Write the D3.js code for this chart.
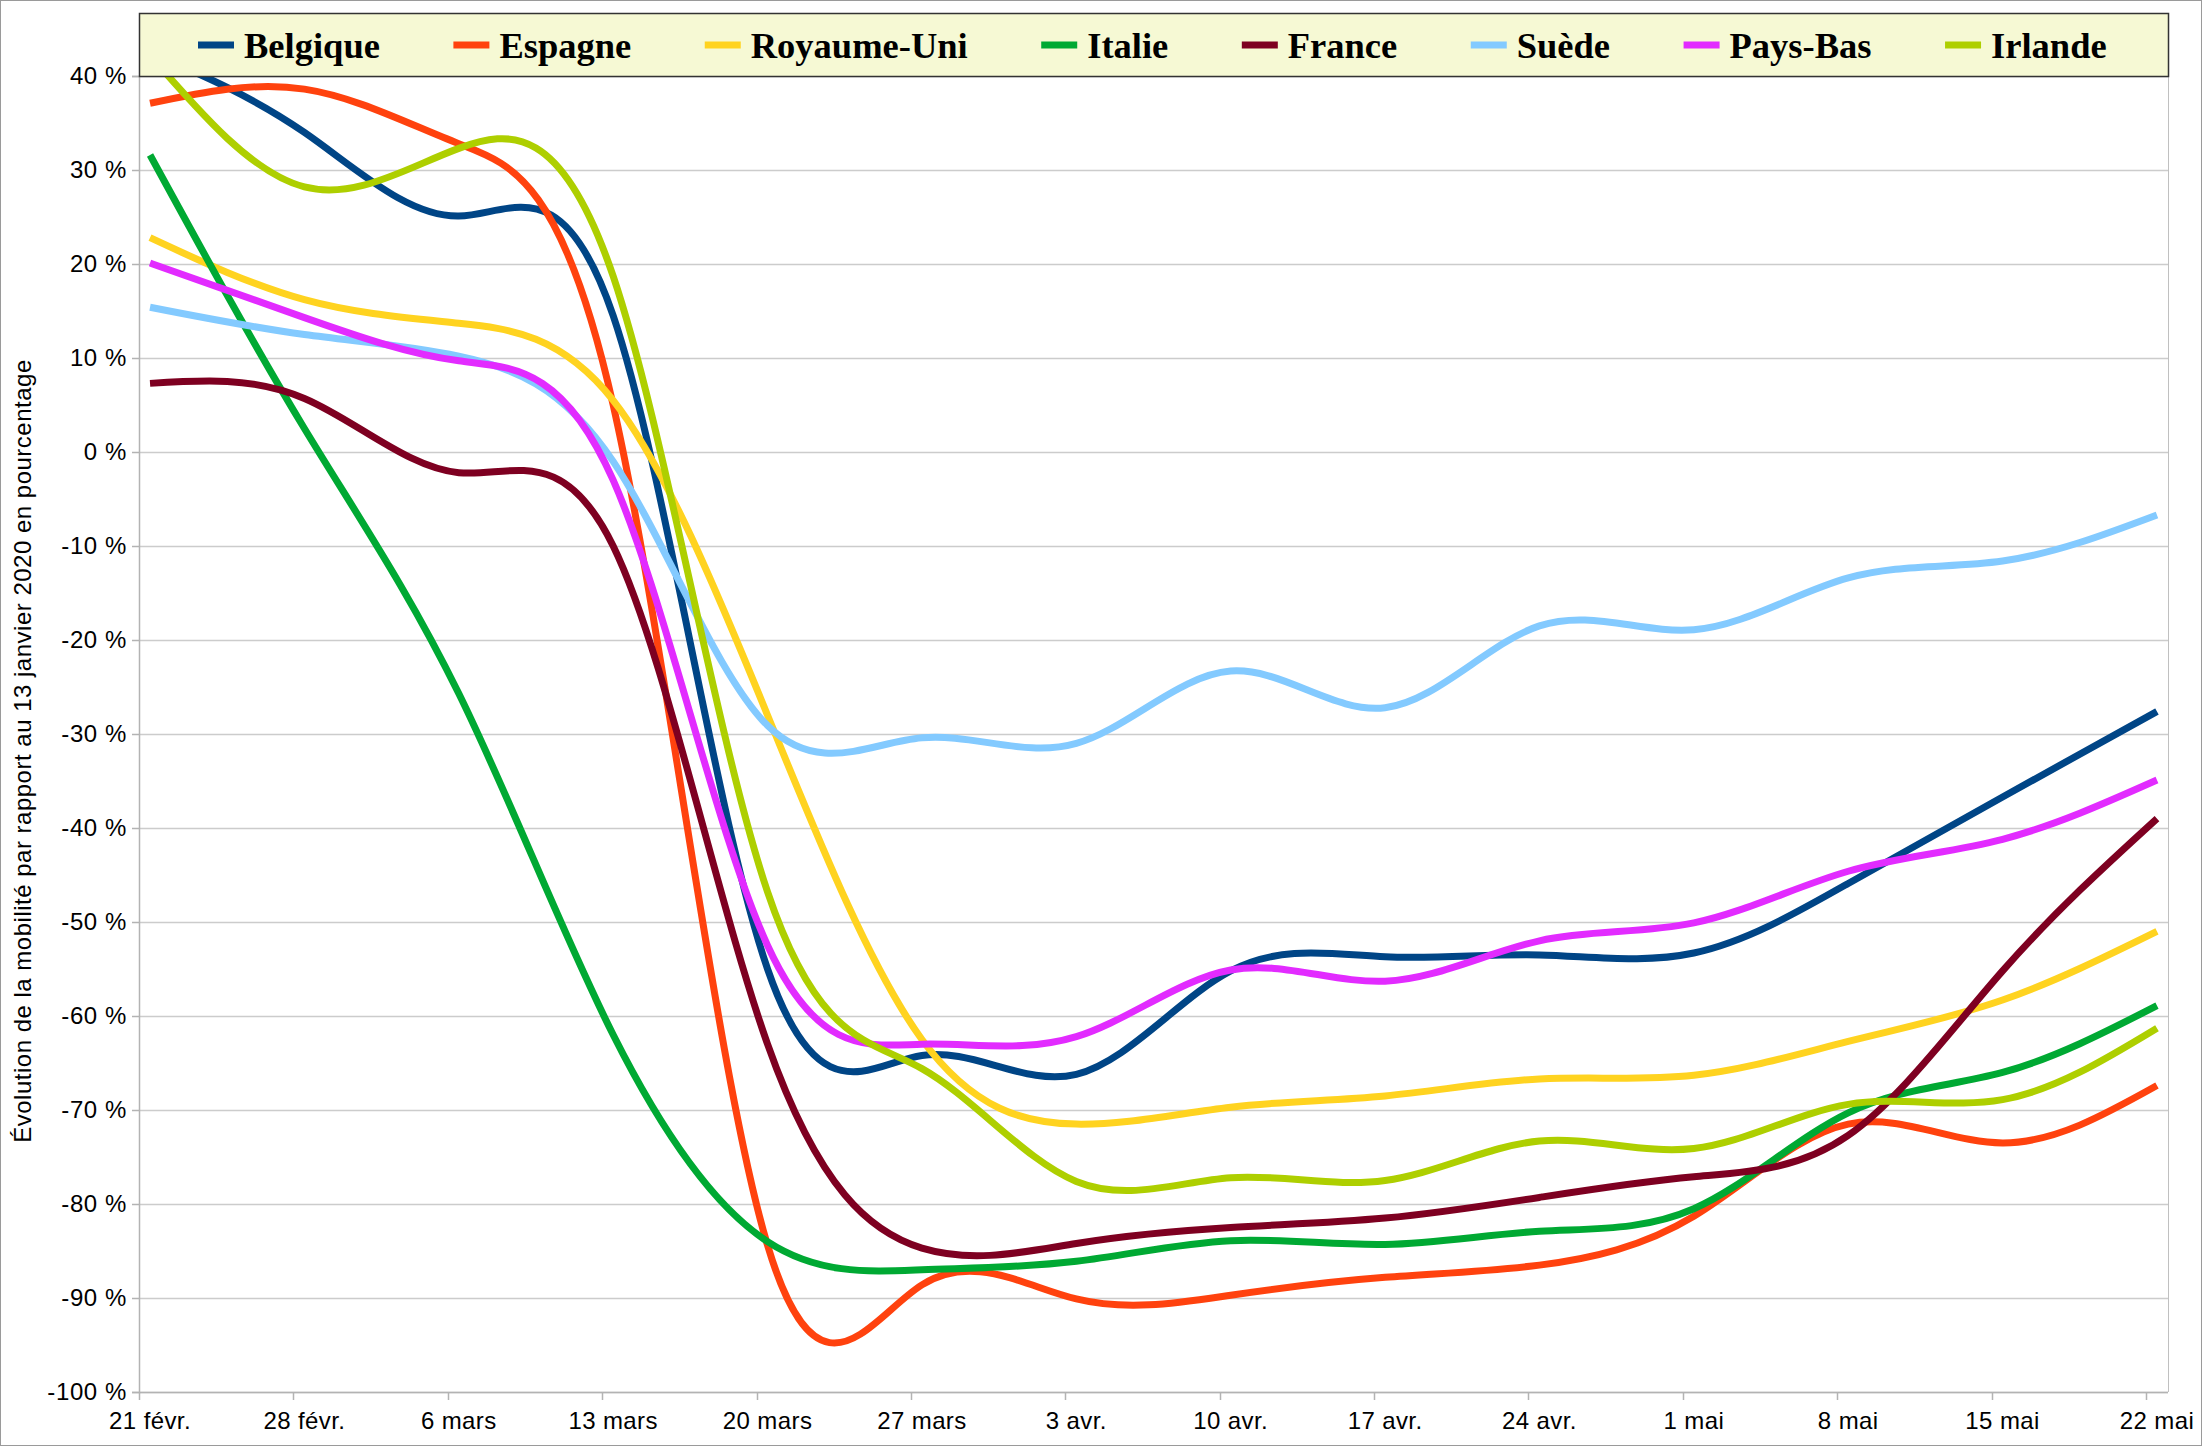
<!DOCTYPE html>
<html>
<head>
<meta charset="utf-8">
<script src="https://cdn.jsdelivr.net/npm/d3@7"></script>
<style>
  body { margin: 0; background: #fff; }
  svg { display: block; }
</style>
</head>
<body>
<div id="chart"></div>
<script>
const svgWidth = 2202;
const svgHeight = 1446;

// weekly data points (dates of the data), values in %
const dates = ["2020-02-21", "2020-02-28", "2020-03-06", "2020-03-13", "2020-03-20", "2020-03-27", "2020-04-03",
  "2020-04-10", "2020-04-17", "2020-04-24", "2020-05-01", "2020-05-08", "2020-05-15", "2020-05-22"];

const countries = ["Belgique", "Espagne", "Royaume-Uni", "Italie", "France", "Suède", "Pays-Bas", "Irlande"];
const colors = ["#004586", "#ff420e", "#ffd320", "#00a933", "#7e0021", "#83caff", "#e22bff", "#aecf00"];

const belgique = [42.5, 34.0, 25.1, 14.5, -55.0, -64.2, -66.2, -55.2, -53.7, -53.5, -53.3, -45.9, -36.7, -27.6];
const espagne = [37.1, 38.6, 32.8, 5.0, -84.4, -88.6, -90.1, -89.7, -87.8, -86.5, -81.3, -71.5, -73.5, -67.4];
const royaumeUni = [22.8, 16.2, 13.7, 5.5, -28.0, -62.5, -71.5, -69.7, -68.5, -66.7, -66.3, -62.7, -58.3, -51.0];
const italie = [31.6, 2.5, -25.7, -62.0, -84.0, -87.0, -86.1, -83.9, -84.3, -82.9, -80.5, -70.3, -66.0, -58.9];
const france = [7.3, 5.7, -2.2, -10.0, -63.0, -84.7, -84.2, -82.5, -81.5, -79.3, -77.1, -72.7, -55.2, -39.0];
const suede = [15.4, 12.5, 10.2, -1.0, -29.1, -30.4, -31.0, -23.3, -27.2, -18.5, -18.9, -13.4, -11.6, -6.7];
const paysBas = [20.1, 14.3, 9.7, -3.0, -52.5, -63.0, -62.2, -55.1, -56.3, -52.0, -50.1, -44.6, -41.2, -34.9];
const irlande = [42.2, 28.2, 32.3, 18.7, -46.8, -65.6, -77.6, -77.2, -77.5, -73.3, -74.1, -69.4, -68.9, -61.3];

const seriesValues = [belgique, espagne, royaumeUni, italie, france, suede, paysBas, irlande];
const yTicks = [40, 30, 20, 10, 0, -10, -20, -30, -40, -50, -60, -70, -80, -90, -100];
const yTitle = "Évolution de la mobilité par rapport au 13 janvier 2020 en pourcentage";

const fr = d3.timeFormatLocale({
  dateTime: "%A %e %B %Y à %X", date: "%d/%m/%Y", time: "%H:%M:%S", periods: ["AM", "PM"],
  days: ["dimanche", "lundi", "mardi", "mercredi", "jeudi", "vendredi", "samedi"],
  shortDays: ["dim.", "lun.", "mar.", "mer.", "jeu.", "ven.", "sam."],
  months: ["janvier", "février", "mars", "avril", "mai", "juin", "juillet", "août", "septembre", "octobre", "novembre", "décembre"],
  shortMonths: ["janv.", "févr.", "mars", "avr.", "mai", "juin", "juil.", "août", "sept.", "oct.", "nov.", "déc."]
});
const fmtDate = fr.format("%-d %b");

const parse = d3.timeParse("%Y-%m-%d");
const dayList = dates.map(parse);
const halfDay = d => d3.timeHour.offset(d, 12);

const sans = "'Liberation Sans', Arial, sans-serif";

const svg = d3.select("#chart")
  .append("svg")
  .attr("width", svgWidth)
  .attr("height", svgHeight);

svg.append("rect")
  .attr("x", 0.5).attr("y", 0.5)
  .attr("width", svgWidth - 1).attr("height", svgHeight - 1)
  .attr("fill", "#fff")
  .attr("stroke", "#9a9a9a");

// plot area
const margin = {top: 76, right: 34, bottom: 54, left: 139};
const graphWidth = svgWidth - margin.left - margin.right;
const graphHeight = svgHeight - margin.top - margin.bottom;

const graph = svg.append("g")
  .attr("transform", `translate(${margin.left}, ${margin.top})`);

const x = d3.scaleTime()
  .domain([dayList[0], d3.timeDay.offset(dayList[dayList.length - 1], 1)])
  .range([0, graphWidth]);

const y = d3.scaleLinear()
  .domain([-100, 40])
  .range([graphHeight, 0]);

// gridlines
graph.selectAll(".grid")
  .data(yTicks)
  .enter()
  .append("line")
  .attr("class", "grid")
  .attr("x1", 0).attr("x2", graphWidth)
  .attr("y1", d => Math.round(y(d)) + 0.5)
  .attr("y2", d => Math.round(y(d)) + 0.5)
  .attr("stroke", "#cccccc")
  .attr("stroke-width", 1.5);

// right border of plot
graph.append("line")
  .attr("x1", graphWidth + 0.5).attr("x2", graphWidth + 0.5)
  .attr("y1", 0).attr("y2", graphHeight)
  .attr("stroke", "#c0c0c0");

// y axis
const yAxis = d3.axisLeft(y)
  .tickValues(yTicks)
  .tickSize(7)
  .tickPadding(5)
  .tickFormat(d => `${d} %`);

const yG = graph.append("g").call(yAxis);
yG.select(".domain").attr("stroke", "#b3b3b3").attr("stroke-width", 1.5);
yG.selectAll(".tick line").attr("stroke", "#b3b3b3").attr("stroke-width", 1.5);
yG.selectAll("text")
  .attr("font-family", sans)
  .attr("font-size", 24)
  .attr("letter-spacing", 0.6)
  .attr("fill", "#000");

// x axis: ticks at day start, labels at day centre
const xG = graph.append("g").attr("transform", `translate(0, ${graphHeight})`);
xG.append("line")
  .attr("x1", 0).attr("x2", graphWidth)
  .attr("y1", 0.5).attr("y2", 0.5)
  .attr("stroke", "#b3b3b3").attr("stroke-width", 1.5);
xG.selectAll(".xtick")
  .data(dayList)
  .enter()
  .append("line")
  .attr("x1", d => Math.round(x(d)) + 0.5)
  .attr("x2", d => Math.round(x(d)) + 0.5)
  .attr("y1", 0).attr("y2", 8)
  .attr("stroke", "#b3b3b3").attr("stroke-width", 1.5);
xG.selectAll(".xlabel")
  .data(dayList)
  .enter()
  .append("text")
  .attr("x", d => x(halfDay(d)))
  .attr("y", 37)
  .attr("text-anchor", "middle")
  .attr("font-family", sans)
  .attr("font-size", 24)
  .attr("letter-spacing", 0.4)
  .text(d => fmtDate(d));

// y title
svg.append("text")
  .attr("transform", `translate(31, ${margin.top + graphHeight / 2 + 17}) rotate(-90)`)
  .attr("text-anchor", "middle")
  .attr("font-family", sans)
  .attr("font-size", 24)
  .attr("letter-spacing", 0.5)
  .text(yTitle);

// lines
const line = d3.line()
  .x((d, i) => x(halfDay(dayList[i])))
  .y(d => y(d))
  .curve(d3.curveNatural);

graph.selectAll(".series")
  .data(seriesValues)
  .enter()
  .append("path")
  .attr("class", "series")
  .attr("d", d => line(d))
  .attr("fill", "none")
  .attr("stroke", (d, i) => colors[i])
  .attr("stroke-width", 7)
  .attr("stroke-linejoin", "round");

// legend on top
const legend = svg.append("g");
legend.append("rect")
  .attr("x", margin.left + 0.5).attr("y", 13.5)
  .attr("width", graphWidth).attr("height", margin.top - 13)
  .attr("fill", "#f6f9d4")
  .attr("stroke", "#333").attr("stroke-width", 1.5);

let lx = 198;
countries.forEach((name, i) => {
  legend.append("line")
    .attr("x1", lx).attr("x2", lx + 36)
    .attr("y1", 45).attr("y2", 45)
    .attr("stroke", colors[i]).attr("stroke-width", 7);
  const t = legend.append("text")
    .attr("x", lx + 46).attr("y", 58)
    .attr("font-family", "'Liberation Serif', 'Times New Roman', serif")
    .attr("font-weight", "bold")
    .attr("font-size", 36.5)
    .text(name);
  lx += 46 + t.node().getComputedTextLength() + 73.5;
});
</script>
</body>
</html>
